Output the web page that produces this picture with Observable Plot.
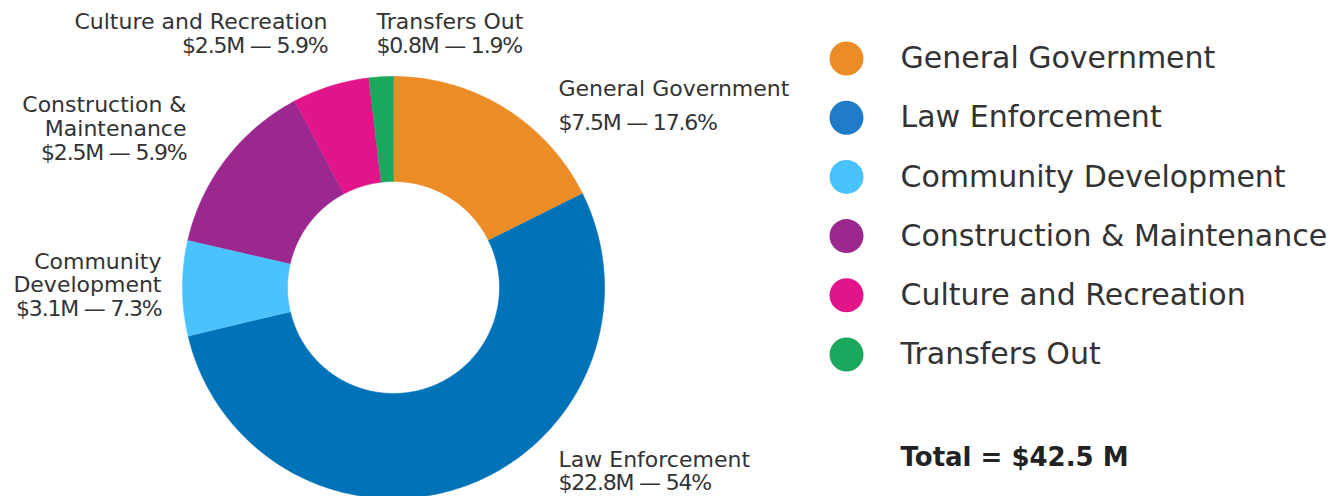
<!DOCTYPE html>
<html>
<head>
<meta charset="utf-8">
<script src="https://cdn.jsdelivr.net/npm/d3@7"></script>
<script src="https://cdn.jsdelivr.net/npm/@observablehq/plot@0.6"></script>
<style>
  html, body { margin: 0; padding: 0; background: #fff; }
  #chart svg { display: block; }
  .valtxt text { letter-spacing: -1.2px; }
</style>
</head>
<body>
<div id="chart"></div>
<script>
// ---- data ----
const categories = ["General Government", "Law Enforcement", "Community Development", "Construction & Maintenance", "Culture and Recreation", "Transfers Out"];
const values = [7.5, 22.8, 3.1, 5.8, 2.5, 0.8]; // $M (slice sizes as drawn)
const valueLabels = ["$7.5M — 17.6%", "$22.8M — 54%", "$3.1M — 7.3%", "$2.5M — 5.9%", "$2.5M — 5.9%", "$0.8M — 1.9%"];
const nameLines = [["General Government"], ["Law Enforcement"], ["Community", "Development"], ["Construction &", "Maintenance"], ["Culture and Recreation"], ["Transfers Out"]];
const sliceColors = ["#EB8C27", "#0072B8", "#4AC3FC", "#9A288E", "#E1148A", "#1BA85C"];
const legendColors = ["#EB8C27", "#1F7BC8", "#4AC3FC", "#9A288E", "#E1148A", "#1BA85C"];
const totalLabel = "Total = $42.5 M";

// ---- layout ----
const W = 1338, H = 496;
const cx = 393, cy = 287, R = 211, r0 = 106;
const FONT = "DejaVu Sans, sans-serif";
const labelLayout = [
  {x: 558, y: 88, dy: 34, anchor: "start"},
  {x: 558, y: 459, dy: 23, anchor: "start"},
  {x: 161, y: 261, dy: 23.5, anchor: "end"},
  {x: 186, y: 104, dy: 24, anchor: "end"},
  {x: 327, y: 21, dy: 24, anchor: "end"},
  {x: 376, y: 21, dy: 24, anchor: "start"}
];
const legendX = 846, legendTextX = 900, legendY0 = 58, legendDY = 59.2;

// ---- derived geometry ----
const slices = categories.map((name, i) => ({name, value: values[i]}));
const arcs = d3.pie().sort(null).value(d => d.value)(slices);
const pts = [];
for (const a of arcs) {
  const n = Math.max(4, Math.ceil((a.endAngle - a.startAngle) / 0.01));
  for (let k = 0; k <= n; k++) {
    const t = a.startAngle + (a.endAngle - a.startAngle) * k / n;
    pts.push({name: a.data.name, x: cx + R * Math.sin(t), y: cy - R * Math.cos(t)});
  }
  for (let k = n; k >= 0; k--) {
    const t = a.startAngle + (a.endAngle - a.startAngle) * k / n;
    pts.push({name: a.data.name, x: cx + r0 * Math.sin(t), y: cy - r0 * Math.cos(t)});
  }
}

const nameRows = [], valueRows = [];
categories.forEach((c, i) => {
  const L = labelLayout[i];
  nameLines[i].forEach((txt, j) => nameRows.push({text: txt, x: L.x, y: L.y + j * L.dy, anchor: L.anchor}));
  valueRows.push({text: valueLabels[i], x: L.x, y: L.y + nameLines[i].length * L.dy, anchor: L.anchor});
});

const legend = categories.map((c, i) => ({name: c, key: "L:" + c, x: legendX, tx: legendTextX, y: legendY0 + i * legendDY}));

const textMarks = (rows, extra) => ["start", "end"].map(anc => Plot.text(rows.filter(d => d.anchor === anc), {
  x: "x", y: "y", text: "text", textAnchor: anc, lineAnchor: "middle",
  fontSize: 22, fill: "#333", fontFamily: FONT, ...extra
}));

const plot = Plot.plot({
  width: W, height: H,
  margin: 0,
  x: {domain: [0, W], range: [0, W], axis: null},
  y: {domain: [0, H], range: [0, H], axis: null},
  color: {domain: [...categories, ...categories.map(c => "L:" + c)], range: [...sliceColors, ...legendColors]},
  style: {fontFamily: FONT, background: "white"},
  marks: [
    Plot.line(pts, {x: "x", y: "y", z: "name", fill: "name", stroke: "name", strokeWidth: 0.6, curve: "linear"}),
    ...textMarks(nameRows, {}),
    ...textMarks(valueRows, {className: "valtxt"}),
    Plot.dot(legend, {x: "x", y: "y", r: 17, fill: "key", stroke: null}),
    Plot.text(legend, {x: "tx", y: "y", text: "name", textAnchor: "start", lineAnchor: "middle", fontSize: 30, fill: "#333", fontFamily: FONT}),
    Plot.text([totalLabel], {x: () => legendTextX, y: () => 457, text: d => d, textAnchor: "start", lineAnchor: "middle", fontSize: 26, fontWeight: "bold", fill: "#222", fontFamily: FONT})
  ]
});
document.getElementById("chart").appendChild(plot);
</script>
</body>
</html>
